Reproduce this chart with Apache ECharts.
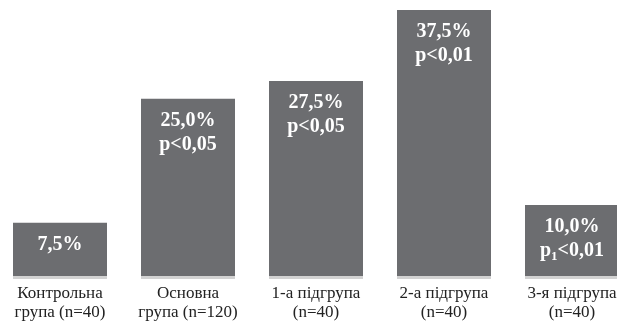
<!DOCTYPE html>
<html>
<head>
<meta charset="utf-8">
<script src="https://cdn.jsdelivr.net/npm/echarts@6/dist/echarts.min.js"></script>
<style>
  html, body { margin: 0; padding: 0; background: #fff; overflow: hidden; }
  #chart { position: absolute; left: -4px; top: 0; width: 640px; height: 323px; }
</style>
</head>
<body>
<div id="chart"></div>
<script>
// дані діаграми
const categories = ['Контрольна\nгрупа (n=40)', 'Основна\nгрупа (n=120)', '1-а підгрупа\n(n=40)', '2-а підгрупа\n(n=40)', '3-я підгрупа\n(n=40)'];
const values = [7.5, 25.0, 27.5, 37.5, 10.0];
const pLabels = ['', 'p<0,05', 'p<0,05', 'p<0,01', 'p_1<0,01'];

const FONT = 'Liberation Serif';

function fmtValue(v) {
  return v.toFixed(1).replace('.', ',') + '%';
}

// підпис всередині стовпчика, p_1 -> нижній індекс
function barLabel(params) {
  let txt = '{b|' + fmtValue(values[params.dataIndex]) + '}';
  let p = pLabels[params.dataIndex];
  if (p) {
    if (p.indexOf('_') >= 0) {
      let parts = p.split('_');
      txt += '\n{b|' + parts[0] + '}{s|' + parts[1].charAt(0) + '}{b|' + parts[1].slice(1) + '}';
    } else {
      txt += '\n{b|' + p + '}';
    }
  }
  return txt;
}

const chart = echarts.init(document.getElementById('chart'));

const option = {
  animation: false,
  backgroundColor: '#ffffff',
  grid: { left: 0, right: 0, top: 10, bottom: 47 },
  xAxis: {
    type: 'category',
    data: categories,
    axisLine: { show: false },
    axisTick: { show: false },
    axisLabel: {
      interval: 0,
      margin: 8,
      color: '#222222',
      fontSize: 17,
      lineHeight: 19,
      fontFamily: FONT
    }
  },
  yAxis: { type: 'value', min: 0, max: 37.5, show: false },
  series: [{
    type: 'bar',
    data: values,
    barWidth: 94,
    itemStyle: { color: '#6c6d70', shadowColor: '#d2d2d2', shadowOffsetY: 3, shadowBlur: 0 },
    label: {
      show: true,
      position: 'insideTop',
      distance: 10,
      formatter: barLabel,
      rich: {
        b: { color: '#ffffff', fontSize: 20, fontWeight: 'bold', fontFamily: FONT, lineHeight: 24 },
        s: { color: '#ffffff', fontSize: 13, fontWeight: 'bold', fontFamily: FONT, lineHeight: 8, verticalAlign: 'bottom' }
      }
    }
  }]
};

chart.setOption(option);

// шрифт підтягується не одразу - оновлюємо список і перемальовуємо (merge)
chart.getZr().storage.getDisplayList(true);
chart.setOption({
  graphic: [{ type: 'text', left: 0, top: 0, silent: true, style: { text: ' ', font: '10px monospace', fill: 'rgba(0,0,0,0)' } }]
});
setTimeout(function () {
  chart.setOption({ graphic: [{ type: 'text', left: 0, top: 0, silent: true, style: { text: ' ', font: '10px monospace', fill: 'rgba(0,0,0,0)' } }] });
}, 150);
</script>
</body>
</html>
